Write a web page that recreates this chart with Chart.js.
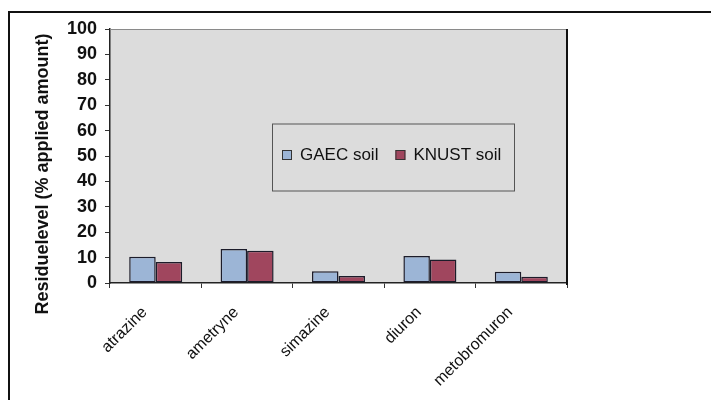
<!DOCTYPE html>
<html>
<head>
<meta charset="utf-8">
<script src="https://cdn.jsdelivr.net/npm/chart.js@4"></script>
<style>
  html, body { margin: 0; padding: 0; background: #ffffff; }
  #wrap { width: 711px; height: 400px; position: relative; }
</style>
</head>
<body>
<div id="wrap"><canvas id="c" width="711" height="400"></canvas></div>
<script>
// Residue levels of herbicides in two soils (% of applied amount)
const herbicides = ['atrazine', 'ametryne', 'simazine', 'diuron', 'metobromuron'];
const gaecSoil = [10.3, 13.4, 4.6, 10.6, 4.4];
const knustSoil = [8.3, 12.7, 2.8, 9.3, 2.5];
const seriesNames = ['GAEC soil', 'KNUST soil'];
const yAxisTitle = 'Residuelevel (% applied amount)';
const yMin = 0, yMax = 100, yStep = 10;

const FONT = '"Liberation Sans", Arial, sans-serif';
const PLOT_BG = '#dcdcdc';

// Page frame, plot background, plot border, in-plot legend and rotated axis title
const decor = {
  id: 'decor',
  beforeDraw(chart) {
    const { ctx, chartArea: a } = chart;
    ctx.save();
    ctx.fillStyle = '#ffffff';
    ctx.fillRect(0, 0, chart.width, chart.height);
    ctx.fillStyle = PLOT_BG;
    ctx.fillRect(a.left, a.top, a.right - a.left, a.bottom - a.top);
    // outer frame (top and left edges)
    ctx.strokeStyle = '#111111';
    ctx.lineWidth = 2;
    ctx.beginPath();
    ctx.moveTo(9, chart.height);
    ctx.lineTo(9, 12);
    ctx.lineTo(chart.width, 12);
    ctx.stroke();
    ctx.restore();
  },
  afterDraw(chart) {
    const { ctx, chartArea: a } = chart;
    ctx.save();
    // plot area border
    ctx.strokeStyle = '#8a8a8a';
    ctx.lineWidth = 1;
    ctx.beginPath();
    ctx.moveTo(a.left, a.top + 0.5);
    ctx.lineTo(a.right, a.top + 0.5);
    ctx.stroke();
    ctx.strokeStyle = '#111111';
    ctx.lineWidth = 2;
    ctx.beginPath();
    ctx.moveTo(a.right, a.top);
    ctx.lineTo(a.right, a.bottom + 2);
    ctx.stroke();

    // legend box
    const lx = 272, ly = 123.5, lw = 242, lh = 67;
    ctx.fillStyle = PLOT_BG;
    ctx.fillRect(lx, ly, lw, lh);
    ctx.strokeStyle = '#555555';
    ctx.lineWidth = 1;
    ctx.strokeRect(lx + 0.5, ly + 0.5, lw, lh);
    ctx.font = '17px ' + FONT;
    ctx.textBaseline = 'middle';
    ctx.textAlign = 'left';
    let x = 282;
    const cy = 155;
    chart.data.datasets.forEach((ds) => {
      ctx.fillStyle = ds.backgroundColor;
      ctx.fillRect(x, cy - 5, 10, 10);
      ctx.strokeStyle = '#333333';
      ctx.lineWidth = 1;
      ctx.strokeRect(x + 0.5, cy - 4.5, 9, 9);
      ctx.fillStyle = '#111111';
      ctx.fillText(ds.label, x + 18, cy);
      x += 18 + ctx.measureText(ds.label).width + 17;
    });

    // y axis title
    ctx.translate(43, 174);
    ctx.rotate(-Math.PI / 2);
    ctx.font = 'bold 18px ' + FONT;
    ctx.fillStyle = '#111111';
    ctx.textAlign = 'center';
    ctx.textBaseline = 'middle';
    ctx.fillText(yAxisTitle, 0, 0);
    ctx.restore();
  }
};

new Chart(document.getElementById('c'), {
  type: 'bar',
  data: {
    labels: herbicides,
    datasets: [
      {
        label: seriesNames[0],
        data: gaecSoil,
        backgroundColor: '#9cb5d6',
        borderColor: '#1c1c2a',
        borderWidth: 1.5,
        borderSkipped: false
      },
      {
        label: seriesNames[1],
        data: knustSoil,
        backgroundColor: '#a0465e',
        borderColor: '#1c1c2a',
        borderWidth: 1.5,
        borderSkipped: false
      }
    ]
  },
  options: {
    responsive: false,
    animation: false,
    devicePixelRatio: 1,
    layout: { padding: { top: 29, right: 144, left: 0, bottom: 0 } },
    categoryPercentage: 0.58,
    barPercentage: 1.0,
    plugins: {
      legend: { display: false },
      tooltip: { enabled: false }
    },
    scales: {
      x: {
        afterFit(scale) { scale.height = 117; },
        grid: {
          display: true,
          drawOnChartArea: false,
          drawTicks: true,
          tickLength: 5,
          color: '#333333',
          offset: true
        },
        border: { display: true, color: '#222222', width: 1.5 },
        ticks: {
          minRotation: 45,
          maxRotation: 45,
          autoSkip: false,
          padding: 15,
          labelOffset: -11,
          color: '#111111',
          font: { family: FONT, size: 16 }
        }
      },
      y: {
        min: yMin,
        max: yMax,
        afterFit(scale) { scale.width = 110; },
        grid: {
          display: true,
          drawOnChartArea: false,
          drawTicks: true,
          tickLength: 5,
          color: '#333333'
        },
        border: { display: true, color: '#222222', width: 1.5 },
        ticks: {
          stepSize: yStep,
          padding: 8,
          color: '#111111',
          font: { family: FONT, size: 18, weight: 'bold' }
        }
      }
    }
  },
  plugins: [decor]
});
</script>
</body>
</html>
